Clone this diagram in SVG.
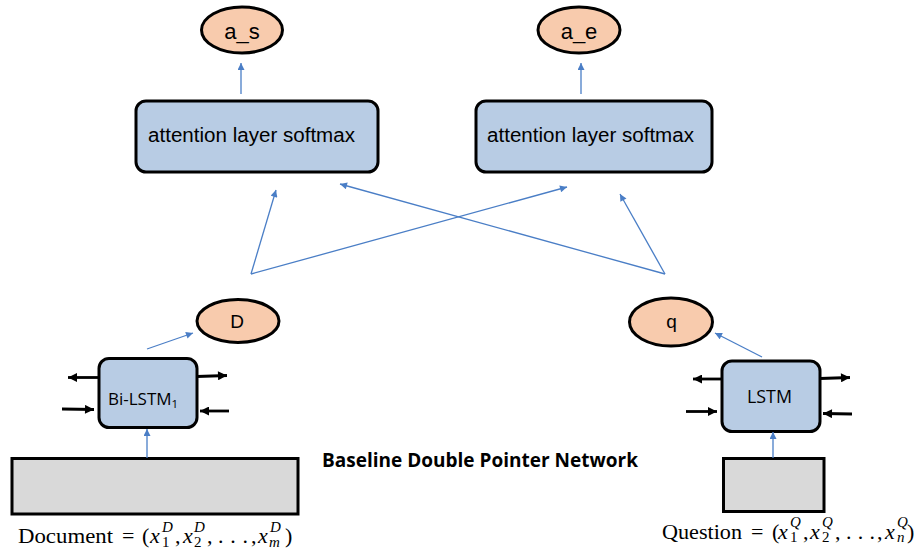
<svg xmlns="http://www.w3.org/2000/svg" width="917" height="554" viewBox="0 0 917 554">
  <defs>
    <marker id="blueHead" viewBox="0 0 10 10" refX="10" refY="5" markerWidth="8" markerHeight="7" markerUnits="userSpaceOnUse" orient="auto">
      <path d="M0,0 L10,5 L0,10 Z" fill="#4A7EC6"/>
    </marker>
    <marker id="blackHead" viewBox="0 0 10 10" refX="10" refY="5" markerWidth="11" markerHeight="9" markerUnits="userSpaceOnUse" orient="auto">
      <path d="M0,0 L10,5 L0,10 Z" fill="#000"/>
    </marker>
  </defs>
  <style>
    .out { fill: #F8CBAD; stroke: #000; stroke-width: 3; }
    .box { fill: #B8CCE4; stroke: #000; stroke-width: 3; }
    .inp { fill: #D9D9D9; stroke: #000; stroke-width: 3; }
    .blue { stroke: #4A7EC6; stroke-width: 1.3; fill: none; marker-end: url(#blueHead); }
    .blk { stroke: #000; stroke-width: 2.8; fill: none; marker-end: url(#blackHead); }
    .arial { font-family: "Liberation Sans", Arial, sans-serif; fill: #000; }
    .cal { font-family: "Open Sans", "Liberation Sans", sans-serif; fill: #000; }
    .tex { font-family: "Liberation Serif", "Times New Roman", serif; font-size: 22px; fill: #000; }
    .mi { font-style: italic; }
    .sc { font-size: 15px; }
  </style>

  <rect width="917" height="554" fill="#fff"/>

  <!-- output ellipses -->
  <g id="a_s">
    <ellipse class="out" cx="242" cy="30" rx="40.5" ry="23"/>
    <text class="arial" x="242" y="39" font-size="22" text-anchor="middle">a_s</text>
  </g>
  <g id="a_e">
    <ellipse class="out" cx="579" cy="30" rx="41" ry="23"/>
    <text class="arial" x="579" y="39" font-size="22" text-anchor="middle">a_e</text>
  </g>

  <!-- attention blocks -->
  <g id="att_start">
    <rect class="box" x="136" y="101" width="242" height="71" rx="10"/>
    <text class="arial" x="148" y="142" font-size="20" textLength="207" lengthAdjust="spacingAndGlyphs">attention layer softmax</text>
  </g>
  <g id="att_end">
    <rect class="box" x="476" y="101" width="236" height="71" rx="10"/>
    <text class="arial" x="487" y="142" font-size="20" textLength="207" lengthAdjust="spacingAndGlyphs">attention layer softmax</text>
  </g>

  <!-- encodings -->
  <g id="D">
    <ellipse class="out" cx="238" cy="321" rx="41" ry="21.5"/>
    <text class="arial" x="237" y="328" font-size="19" text-anchor="middle">D</text>
  </g>
  <g id="q">
    <ellipse class="out" cx="671" cy="322" rx="41.5" ry="24"/>
    <text class="arial" x="671.5" y="328" font-size="19" text-anchor="middle">q</text>
  </g>

  <!-- recurrent encoders -->
  <g id="bilstm">
    <rect class="box" x="99" y="358.5" width="98" height="69" rx="10"/>
    <text class="cal" x="108" y="405" font-size="17">Bi-LSTM<tspan font-size="11.5" dy="3">1</tspan></text>
  </g>
  <g id="lstm">
    <rect class="box" x="722" y="361" width="98" height="70.5" rx="10"/>
    <text class="cal" x="747" y="403" font-size="19" textLength="45" lengthAdjust="spacingAndGlyphs">LSTM</text>
  </g>

  <!-- input sequences -->
  <g id="document">
    <rect class="inp" x="12" y="458.5" width="286" height="55.5"/>
    <text class="tex" y="543"><tspan x="18" textLength="95" lengthAdjust="spacingAndGlyphs">Document</tspan><tspan x="122">=</tspan><tspan x="142">(</tspan><tspan x="150" class="mi">x</tspan><tspan x="162" y="532" class="sc mi">D</tspan><tspan x="162" y="546.5" class="sc">1</tspan><tspan x="175" y="543">,</tspan><tspan x="183" class="mi">x</tspan><tspan x="194" y="532" class="sc mi">D</tspan><tspan x="194" y="546.5" class="sc">2</tspan><tspan x="207" y="543">,</tspan><tspan x="218" textLength="30">. . .</tspan><tspan x="251">,</tspan><tspan x="258" class="mi">x</tspan><tspan x="270" y="532" class="sc mi">D</tspan><tspan x="269" y="546.5" class="sc mi">m</tspan><tspan x="285" y="543">)</tspan></text>
  </g>
  <g id="question">
    <rect class="inp" x="723.5" y="458.5" width="100.5" height="53"/>
    <text class="tex" y="538.5"><tspan x="662" textLength="80" lengthAdjust="spacingAndGlyphs">Question</tspan><tspan x="751">=</tspan><tspan x="772">(</tspan><tspan x="778" class="mi">x</tspan><tspan x="790" y="526.5" class="sc mi">Q</tspan><tspan x="790" y="542" class="sc">1</tspan><tspan x="803" y="538.5">,</tspan><tspan x="810" class="mi">x</tspan><tspan x="822" y="526.5" class="sc mi">Q</tspan><tspan x="822" y="542" class="sc">2</tspan><tspan x="835" y="538.5">,</tspan><tspan x="846" textLength="29">. . .</tspan><tspan x="877">,</tspan><tspan x="885" class="mi">x</tspan><tspan x="897" y="526.5" class="sc mi">Q</tspan><tspan x="897" y="542" class="sc mi">n</tspan><tspan x="907" y="538.5">)</tspan></text>
  </g>

  <!-- caption -->
  <text id="title" class="cal" x="322" y="467" font-size="19.5" font-weight="bold" textLength="316" lengthAdjust="spacingAndGlyphs">Baseline Double Pointer Network</text>

  <!-- connectors -->
  <g id="connectors">
    <path class="blue" d="M241,94 L241,63"/>
    <path class="blue" d="M581,94 L581,63"/>
    <path class="blue" d="M251,274 L276,190"/>
    <path class="blue" d="M251,274 L567,187"/>
    <path class="blue" d="M665,274 L340,184"/>
    <path class="blue" d="M665,274 L620,194"/>
    <path class="blue" d="M147,349 L193,333"/>
    <path class="blue" d="M762,357 L715,333"/>
    <path class="blue" d="M147,458 L147,429"/>
    <path class="blue" d="M773,458 L773,432"/>

    <path class="blk" d="M99,377.5 L68,377.5"/>
    <path class="blk" d="M197,376.5 L227,375.5"/>
    <path class="blk" d="M62,409 L94,409.5"/>
    <path class="blk" d="M229,411 L200,411"/>
    <path class="blk" d="M722,379 L693,379"/>
    <path class="blk" d="M820,378.5 L850,377.5"/>
    <path class="blk" d="M686,411.5 L717,411.5"/>
    <path class="blk" d="M852,414 L823,413.5"/>
  </g>
</svg>
